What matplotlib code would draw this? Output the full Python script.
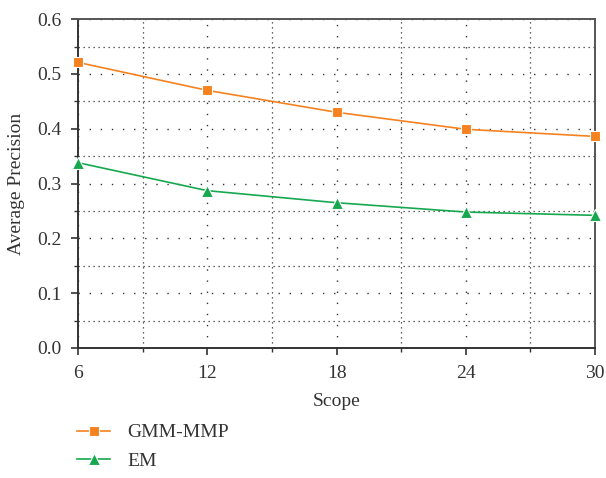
import matplotlib.pyplot as plt
from matplotlib.ticker import MultipleLocator

scope = [6, 12, 18, 24, 30]
gmm_mmp = [0.521, 0.470, 0.430, 0.399, 0.386]
em = [0.338, 0.287, 0.265, 0.248, 0.242]

plt.rcParams['font.family'] = ['Liberation Serif', 'DejaVu Serif']

fig = plt.figure(figsize=(6.06, 4.78), dpi=100)
ax = fig.add_axes([0.129, 0.272, 0.853, 0.688])

l1, = ax.plot(scope, gmm_mmp, color='#f5821f', marker='s', markersize=7,
              markeredgecolor='white', markeredgewidth=0.8, linewidth=1.2,
              label='GMM-MMP', clip_on=False, zorder=3)
l2, = ax.plot(scope, em, color='#16a84f', marker='^', markersize=9,
              markeredgecolor='white', markeredgewidth=0.8, linewidth=1.2,
              label='EM', clip_on=False, zorder=3)

ax.set_xlim(6, 30)
ax.set_ylim(0, 0.6)
ax.xaxis.set_major_locator(MultipleLocator(6))
ax.xaxis.set_minor_locator(MultipleLocator(3))
ax.yaxis.set_major_locator(MultipleLocator(0.1))
ax.yaxis.set_minor_locator(MultipleLocator(0.05))
ax.yaxis.set_major_formatter(plt.FormatStrFormatter('%.1f'))

ax.grid(which='major', color='#333333', linestyle=(0, (1, 7)), linewidth=1.0)
ax.grid(which='minor', color='#333333', linestyle=(0, (1, 3)), linewidth=0.9)

ax.tick_params(which='major', direction='out', length=5, width=1.2, pad=7,
               labelsize=14, colors='#333333', labelcolor='#333333')
ax.tick_params(which='minor', direction='out', length=3, width=1.0, colors='#333333')
for side in ['left', 'bottom']:
    ax.spines[side].set_linewidth(1.4)
    ax.spines[side].set_color('#333333')
for side in ['top', 'right']:
    ax.spines[side].set_linewidth(1.4)
    ax.spines[side].set_color('#555555')

ax.set_xlabel('Scope', fontsize=14, color='#333333', labelpad=8)
ax.set_ylabel('Average Precision', fontsize=14, color='#333333', labelpad=9)

fig.legend(handles=[l1, l2], loc='upper left', bbox_to_anchor=(0.108, 0.138),
           frameon=False, fontsize=14, handlelength=1.7, handletextpad=0.9,
           labelspacing=0.55, borderaxespad=0.2, labelcolor='#333333')

fig.savefig('out.png', dpi=100)
